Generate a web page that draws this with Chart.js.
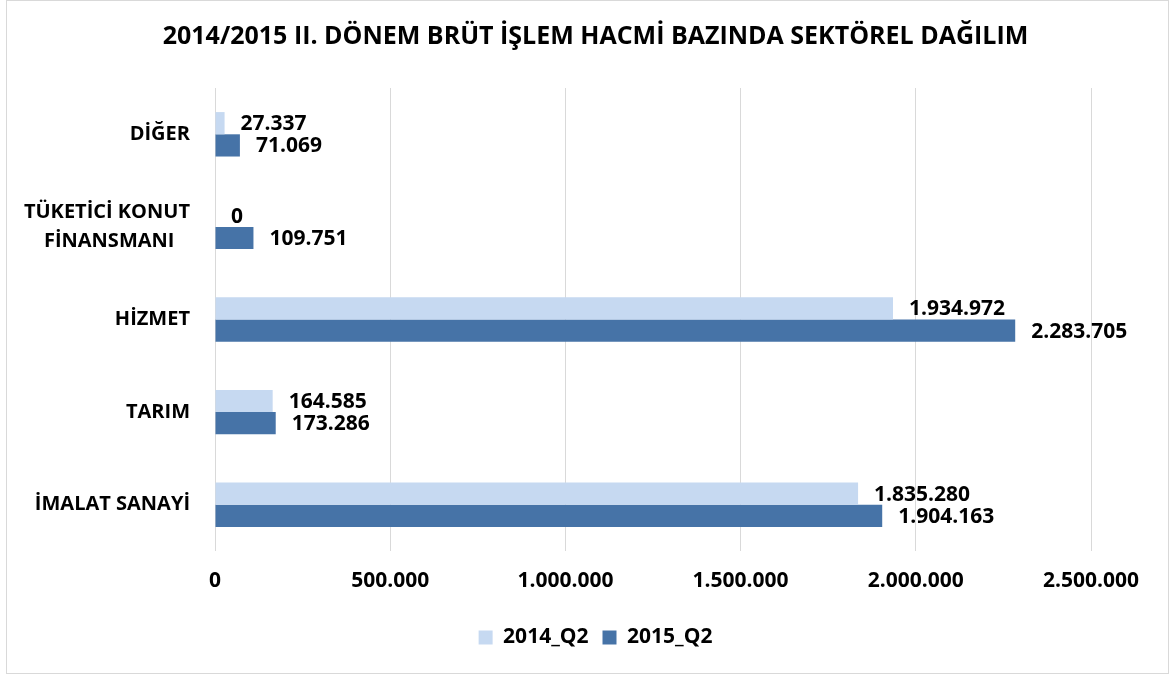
<!DOCTYPE html>
<html>
<head>
<meta charset="utf-8">
<script src="https://cdn.jsdelivr.net/npm/chart.js@4.4.1/dist/chart.umd.min.js"></script>
<style>
  html, body { margin: 0; padding: 0; background: #fff; }
  #frame {
    position: absolute; left: 6px; top: 0; width: 1161px; height: 672px;
    border: 1px solid #d9d9d9;
  }
  #wrap { position: absolute; left: 0; top: 0; width: 1171px; height: 675px; }
</style>
</head>
<body>
<div id="frame"></div>
<div id="wrap"><canvas id="sectorChart" width="1171" height="675"></canvas></div>
<script>
// data
const sectors = ["DİĞER", ["TÜKETİCİ KONUT", "FİNANSMANI   "], "HİZMET", "TARIM", "İMALAT SANAYİ"];
const q2_2014 = [27337, 0, 1934972, 164585, 1835280];
const q2_2015 = [71069, 109751, 2283705, 173286, 1904163];
const seriesNames = ["2014_Q2", "2015_Q2"];
const axisMax = 2500000;
const axisStep = 500000;

const FONT = "'Open Sans', sans-serif";

// 1234567 -> 1.234.567
function fmt(v) {
  return String(Math.round(v)).replace(/\B(?=(\d{3})+(?!\d))/g, ".");
}

// value labels next to each bar (no datalabels plugin available)
const barValues = {
  id: "barValues",
  afterDatasetsDraw(chart) {
    const ctx = chart.ctx;
    ctx.save();
    ctx.font = "bold 21px " + FONT;
    ctx.fillStyle = "#000";
    ctx.textAlign = "left";
    ctx.textBaseline = "middle";
    chart.data.datasets.forEach((ds, i) => {
      const meta = chart.getDatasetMeta(i);
      meta.data.forEach((bar, j) => {
        ctx.fillText(fmt(ds.data[j]), bar.x + 16, bar.y + 1);
      });
    });
    ctx.restore();
  }
};

// the y axis box is kept narrow so title/legend sit centred like the original;
// widen its label clip area so the long category names are not cut off
const labelRoom = {
  id: "labelRoom",
  afterLayout(chart) {
    chart.scales.y.left = 0;
  }
};

const ctx = document.getElementById("sectorChart");
new Chart(ctx, {
  type: "bar",
  plugins: [barValues, labelRoom],
  data: {
    labels: sectors,
    datasets: [{
      label: seriesNames[0],
      data: q2_2014,
      backgroundColor: "#c6d9f1",
      categoryPercentage: 0.48,
      barPercentage: 1.0
    }, {
      label: seriesNames[1],
      data: q2_2015,
      backgroundColor: "#4673a7",
      categoryPercentage: 0.48,
      barPercentage: 1.0
    }]
  },
  options: {
    indexAxis: "y",
    responsive: false,
    animation: false,
    layout: { padding: { left: 100, right: 80, top: 0, bottom: 17 } },
    scales: {
      x: {
        min: 0,
        max: axisMax,
        ticks: {
          stepSize: axisStep,
          color: "#000",
          font: { family: FONT, size: 21, weight: "bold" },
          padding: 17,
          callback: (v) => fmt(v)
        },
        grid: { color: "#d9d9d9", lineWidth: 1, drawTicks: false },
        border: { display: false },
        afterFit(scale) { scale.height = 62; }
      },
      y: {
        ticks: {
          color: "#000",
          font: { family: FONT, size: 20, weight: "bold", lineHeight: 1.45 },
          padding: 17
        },
        grid: { display: false },
        border: { display: false },
        afterFit(scale) { scale.width = 115; }
      }
    },
    plugins: {
      title: {
        display: true,
        text: "2014/2015 II. DÖNEM BRÜT İŞLEM HACMİ BAZINDA SEKTÖREL DAĞILIM",
        color: "#000",
        font: { family: FONT, size: 25, weight: "bold" },
        padding: { top: 22, bottom: 36 }
      },
      legend: {
        position: "bottom",
        labels: {
          color: "#000",
          font: { family: FONT, size: 21, weight: "bold" },
          boxWidth: 14,
          boxHeight: 14,
          padding: 14
        }
      },
      tooltip: { enabled: false }
    }
  }
});
</script>
</body>
</html>
